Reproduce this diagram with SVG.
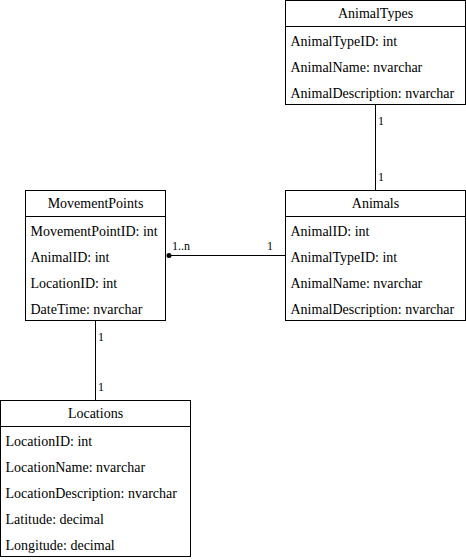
<svg xmlns="http://www.w3.org/2000/svg" width="466" height="560" viewBox="0 0 466 560">
<style>
.box{fill:#fff;stroke:#000;stroke-width:1}
.ln{stroke:#000;stroke-width:1;fill:none}
text{font-family:'Liberation Serif','Times New Roman',serif;font-size:14px;fill:#000}
.h{text-anchor:middle}
.lbl{font-size:12px}
</style>
<defs>
<marker id="dot" markerWidth="8" markerHeight="8" refX="4" refY="4" markerUnits="userSpaceOnUse"><circle cx="4" cy="4" r="2.5" fill="#000"/></marker>
</defs>
<g id="connectors">
<line class="ln" x1="375.5" y1="104.5" x2="375.5" y2="190.5"/>
<line class="ln" x1="285.5" y1="255.5" x2="169" y2="255.5" marker-end="url(#dot)"/>
<line class="ln" x1="95.5" y1="320.5" x2="95.5" y2="400.5"/>
<text class="lbl" x="378" y="125">1</text>
<text class="lbl" x="378" y="181">1</text>
<text class="lbl" x="172" y="250">1..n</text>
<text class="lbl" x="267" y="250">1</text>
<text class="lbl" x="98" y="341">1</text>
<text class="lbl" x="98" y="391">1</text>
</g>
<g id="AnimalTypes">
<rect class="box" x="285.5" y="0.5" width="180" height="104"/>
<line class="ln" x1="285.5" y1="26.5" x2="465.5" y2="26.5"/>
<text class="h" x="375.5" y="18">AnimalTypes</text>
<text x="290.5" y="46">AnimalTypeID: int</text>
<text x="290.5" y="72">AnimalName: nvarchar</text>
<text x="290.5" y="98">AnimalDescription: nvarchar</text>
</g>
<g id="Animals">
<rect class="box" x="285.5" y="190.5" width="180" height="130"/>
<line class="ln" x1="285.5" y1="216.5" x2="465.5" y2="216.5"/>
<text class="h" x="375.5" y="208">Animals</text>
<text x="290.5" y="236">AnimalID: int</text>
<text x="290.5" y="262">AnimalTypeID: int</text>
<text x="290.5" y="288">AnimalName: nvarchar</text>
<text x="290.5" y="314">AnimalDescription: nvarchar</text>
</g>
<g id="MovementPoints">
<rect class="box" x="25.5" y="190.5" width="140" height="130"/>
<line class="ln" x1="25.5" y1="216.5" x2="165.5" y2="216.5"/>
<text class="h" x="95.5" y="208">MovementPoints</text>
<text x="30.5" y="236">MovementPointID: int</text>
<text x="30.5" y="262">AnimalID: int</text>
<text x="30.5" y="288">LocationID: int</text>
<text x="30.5" y="314">DateTime: nvarchar</text>
</g>
<g id="Locations">
<rect class="box" x="0.5" y="400.5" width="190" height="156"/>
<line class="ln" x1="0.5" y1="426.5" x2="190.5" y2="426.5"/>
<text class="h" x="95.5" y="418">Locations</text>
<text x="5.5" y="446">LocationID: int</text>
<text x="5.5" y="472">LocationName: nvarchar</text>
<text x="5.5" y="498">LocationDescription: nvarchar</text>
<text x="5.5" y="524">Latitude: decimal</text>
<text x="5.5" y="550">Longitude: decimal</text>
</g>
</svg>
